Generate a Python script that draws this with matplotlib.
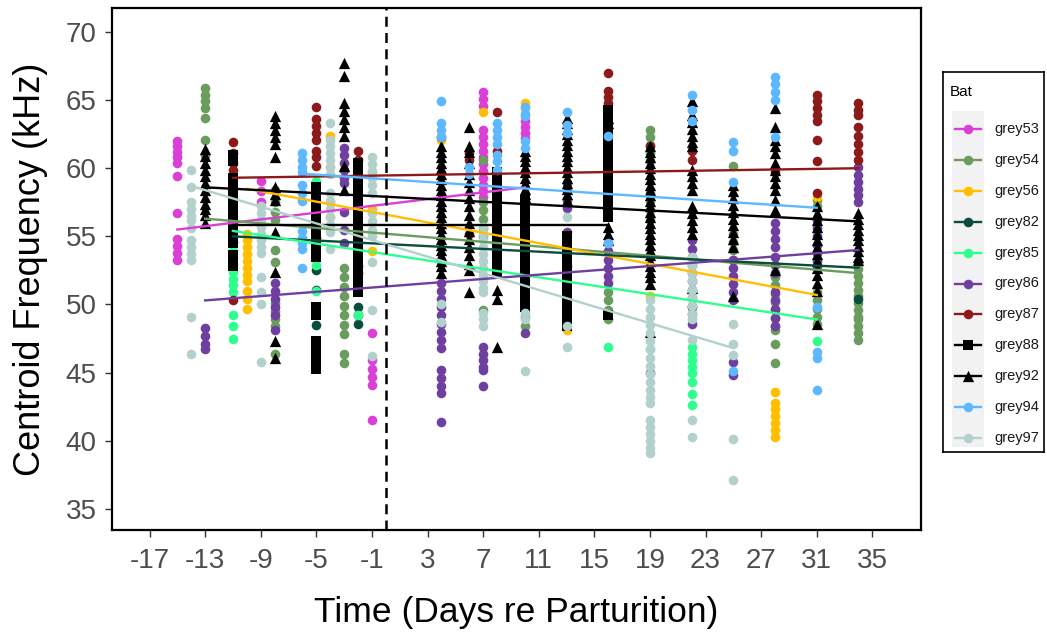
import matplotlib

matplotlib.use("Agg")
import matplotlib.pyplot as plt
from matplotlib.patches import Rectangle

plt.rcParams["font.family"] = ["Liberation Sans", "DejaVu Sans"]
plt.rcParams["axes.unicode_minus"] = False

bats = ["grey53", "grey54", "grey56", "grey82", "grey85", "grey86",
        "grey87", "grey88", "grey92", "grey94", "grey97"]
colors = ["#DA3FD6", "#6A9C5E", "#FFBF00", "#0B4D3D", "#2EFF8E", "#6F3FA0",
          "#8C1A1A", "#000000", "#000000", "#5DB8FF", "#B3D1CC"]
markers = ["o", "o", "o", "o", "o", "o", "o", "s", "^", "o", "o"]

# (day, centroid values), per bat
grey53 = [(-15, [62.0, 61.6, 61.2, 60.8, 60.4, 59.4, 56.7, 54.8, 54.3, 53.8, 53.3]),
          (-9, [59.1, 58.3, 57.5]),
          (-1, [47.9, 45.9, 45.3, 44.7, 44.1, 41.5]),
          (7, [65.6, 65.1, 64.6, 62.8, 62.3, 61.8, 61.3, 60.8, 60.3, 59.8, 59.3, 58.8, 58.3, 57.9]),
          (10, [63.5, 63.0, 62.6, 62.2])]
grey54 = [(-13, [65.9, 65.4, 64.9, 64.4, 63.7, 62.1, 61.0]),
          (-8, [58.4, 57.5, 56.8, 56.2, 54.0, 53.1, 50.1, 49.5, 48.9, 48.4, 46.4]),
          (-3, [52.7, 52.0, 51.3, 50.6, 49.9, 49.2, 48.5, 47.8, 46.4, 45.7]),
          (7, [60.6, 57.5, 56.9, 56.3, 55.6, 55.0, 49.6]),
          (10, [49.1, 48.4]),
          (16, [50.9, 50.3, 49.6, 48.9]),
          (19, [62.8, 62.3, 61.7, 61.1, 60.5, 58.2, 57.6, 56.9, 56.2]),
          (25, [60.2, 55.2, 54.6, 54.0, 53.3]),
          (28, [52.0, 51.4, 50.8, 50.2, 49.6, 49.0, 48.4, 48.1, 47.1, 45.7]),
          (31, [57.7, 57.2, 50.9, 50.3, 49.7, 49.1, 48.6]),
          (34, [53.1, 52.6, 52.1, 51.6, 51.1, 50.6, 50.1, 49.6, 49.1, 48.9, 48.4, 47.9, 47.4])]
grey56 = [(-10, [55.2, 54.7, 54.2, 53.7, 53.2, 52.7, 52.2, 51.7, 51.0, 50.4, 49.7]),
          (-4, [62.4, 60.1, 57.5, 56.4]),
          (-1, [59.7, 57.0, 53.9]),
          (4, [62.1]),
          (7, [64.1]),
          (10, [64.8, 64.4]),
          (13, [48.1]),
          (19, [50.6]),
          (28, [43.6, 42.8, 42.3, 41.8, 41.3, 40.8, 40.3]),
          (31, [57.9])]
grey82 = [(-11, [55.0, 54.6]),
          (-5, [52.5, 51.1, 48.5]),
          (-2, [52.8, 49.8, 49.2, 48.6]),
          (22, [49.8]),
          (34, [50.4])]
grey85 = [(-11, [53.9, 53.4, 52.9, 52.4, 51.9, 51.4, 50.9, 49.2, 48.4, 47.5]),
          (-5, [59.1, 52.9, 51.0]),
          (-2, [49.2]),
          (4, [53.0]),
          (10, [49.6]),
          (16, [46.9]),
          (19, [46.7]),
          (22, [46.9, 46.4, 45.9, 45.4, 45.0, 44.3, 43.4, 42.6]),
          (31, [47.3])]
grey86 = [(-13, [48.3, 47.7, 47.1, 46.7]),
          (-8, [51.6, 51.0, 50.4, 49.8, 49.2, 48.1]),
          (-3, [61.5, 61.0, 60.4, 59.9, 59.3, 58.9, 56.8, 55.5, 54.5]),
          (4, [51.6, 51.0, 50.4, 49.8, 49.2, 48.6, 48.0, 47.4, 46.8, 45.2, 44.6, 44.0, 43.5, 41.4]),
          (7, [46.9, 46.4, 45.9, 45.4, 45.2, 44.0]),
          (10, [47.9]),
          (13, [58.9, 58.3, 57.7, 57.1, 55.3, 52.8]),
          (16, [54.5, 53.9, 53.3, 52.7, 52.1, 51.6]),
          (19, [45.0]),
          (22, [54.7, 54.1, 53.5, 52.9, 52.3, 51.7, 51.1, 50.5, 49.9, 49.3, 48.6]),
          (25, [53.3, 52.7, 52.1, 51.5, 50.9, 50.3, 45.8, 44.8]),
          (28, [56.0, 55.4, 54.8, 54.2, 53.5, 52.9, 52.3, 50.9, 50.3, 49.7, 49.0, 48.4]),
          (31, [56.2, 55.6, 55.0, 54.4, 53.8, 53.2, 52.8]),
          (34, [60.1, 59.5, 59.0, 58.5, 58.0, 57.5])]
grey87 = [(-11, [61.9, 61.1, 60.4, 59.9, 50.3]),
          (-5, [64.5, 63.6, 63.1, 62.6, 62.1, 61.3, 60.8, 60.2, 54.9]),
          (-2, [61.3, 60.6, 55.1, 54.5, 54.0, 52.3]),
          (4, [62.3]),
          (6, [61.1, 60.6, 55.2]),
          (8, [64.1, 61.3]),
          (16, [67.0, 65.7, 65.2, 64.8]),
          (19, [61.6]),
          (22, [61.3, 60.6]),
          (28, [59.7]),
          (31, [65.4, 64.9, 64.4, 63.9, 63.5, 62.1, 60.5, 58.2]),
          (34, [64.8, 64.3, 63.9, 63.0, 62.4, 61.8, 61.2, 60.6])]
grey88 = [(-11, [61.0, 60.5, 59.3, 58.9, 58.5, 58.1, 57.7, 57.3, 56.9, 56.5, 56.1, 55.7, 55.3,
                 54.9, 54.5, 53.6, 53.1, 52.8]),
          (-5, [58.6, 58.2, 57.8, 57.4, 57.0, 56.6, 56.2, 55.8, 55.4, 55.0, 54.6, 54.2, 53.8,
                53.5, 49.8, 49.2, 47.3, 46.8, 46.3, 45.8, 45.3]),
          (-2, [60.4, 60.0, 59.6, 59.2, 58.8, 58.4, 58.0, 57.6, 57.2, 56.8, 56.4, 56.0, 55.6,
                55.2, 54.8, 54.4, 54.0, 53.6, 53.2, 52.8, 52.4, 52.0, 51.6, 51.2, 50.9]),
          (8, [59.7, 59.3, 58.9, 58.5, 58.1, 57.7, 57.3, 56.9, 56.5, 56.1, 55.7, 55.3, 54.9,
               54.5, 54.1, 53.7, 53.3, 52.9, 52.5, 52.3]),
          (10, [57.7, 57.3, 56.9, 56.5, 56.1, 55.7, 55.3, 54.9, 54.5, 54.1, 53.7, 53.3, 52.9,
                52.5, 52.1, 51.7, 51.3, 50.9, 50.5, 50.1, 49.8]),
          (13, [55.0, 54.6, 54.2, 53.8, 53.4, 53.0, 52.6, 52.2, 51.8, 51.4, 51.0, 50.6, 50.2,
                49.8, 49.4, 49.0, 48.6, 48.4]),
          (16, [64.3, 63.9, 63.5, 63.1, 62.7, 62.3, 61.9, 61.5, 61.1, 60.7, 60.3, 59.9, 59.5,
                59.1, 58.7, 58.3, 57.9, 57.5, 57.1, 56.7, 56.4, 49.2])]
grey92 = [(-13, [61.4, 60.9, 60.4, 59.9, 59.4, 58.9, 58.4, 57.9, 57.4, 57.0, 56.6, 56.0]),
          (-8, [63.8, 63.3, 62.8, 62.3, 61.8, 60.8, 58.6, 58.1, 57.7, 55.3, 52.4, 47.3, 46.1]),
          (-3, [67.7, 66.8, 64.8, 64.2, 63.6, 63.0, 62.4, 60.2, 58.4]),
          (4, [61.6, 61.2, 60.8, 60.4, 60.0, 59.6, 59.2, 58.8, 58.4, 58.0, 57.6, 57.2, 56.8,
               56.4, 56.0, 55.6, 55.2, 54.8, 54.4, 54.0, 53.6, 53.2, 52.8, 52.3]),
          (6, [63.0, 61.6, 61.2, 60.4, 59.6, 59.0, 58.4, 57.8, 57.2, 56.6, 56.0, 55.4, 54.8,
               54.2, 53.6, 53.0, 52.5, 50.9]),
          (8, [51.1, 50.4, 46.9]),
          (10, [61.3, 60.9, 60.5, 60.1, 59.7, 59.3, 58.9, 58.5, 58.1, 57.9]),
          (13, [63.7, 63.3, 62.9, 62.5, 62.1, 61.7, 61.3, 60.9, 60.5, 60.1, 59.7, 59.3, 58.9,
                58.5, 58.1, 57.7]),
          (16, [63.7, 63.3, 55.7, 55.2, 54.7]),
          (19, [61.6, 61.2, 60.8, 60.4, 60.0, 59.6, 59.2, 58.8, 58.4, 58.0, 57.6, 57.2, 56.8,
                56.4, 56.0, 55.6, 55.2, 54.8, 54.4, 54.0, 53.6, 53.2, 52.8, 52.4, 52.0, 51.5,
                48.0]),
          (22, [64.9, 63.9, 63.4, 62.9, 62.4, 61.9, 61.6, 59.9, 59.4, 58.9, 58.4, 57.2, 56.7,
                56.2, 55.7, 55.2, 51.2]),
          (25, [58.8, 58.3, 57.8, 57.3, 56.8, 56.3, 55.8, 55.3, 54.8, 54.2, 50.6]),
          (28, [64.4, 63.0, 62.1, 61.6, 61.1, 60.4, 59.9, 59.4, 58.9, 58.4, 57.7, 56.9, 52.5]),
          (31, [57.2, 56.7, 56.2, 55.7, 55.2, 54.7, 54.2, 53.7, 53.2, 52.7, 52.2, 51.6, 51.0,
                48.6]),
          (34, [56.7, 56.3, 55.9, 55.5, 55.1, 54.7, 54.3, 53.9, 53.5, 53.3])]
grey94 = [(-6, [61.1, 60.6, 60.1, 59.7, 58.8, 58.2, 57.6, 55.4, 54.9, 54.5, 54.1, 52.7]),
          (4, [64.9, 63.3, 62.8, 62.3]),
          (6, [60.1, 59.6]),
          (8, [63.3, 62.8, 62.3, 61.8, 61.0, 60.5, 59.9]),
          (10, [64.5, 64.0, 63.8, 62.0, 61.5]),
          (13, [64.1, 63.2, 62.6]),
          (16, [62.4, 54.5]),
          (22, [65.4, 64.3, 63.5]),
          (25, [61.9, 61.3, 59.0, 45.1]),
          (28, [66.7, 66.2, 65.6, 65.0, 62.3]),
          (31, [49.8, 46.5, 46.1, 43.7])]
grey97 = [(-14, [59.9, 58.6, 57.5, 57.0, 56.5, 56.2, 55.6, 54.7, 54.2, 53.7, 53.3, 49.1, 46.4]),
          (-9, [57.2, 56.7, 56.2, 55.7, 55.2, 54.7, 54.2, 53.8, 52.0, 50.9, 50.0, 45.8]),
          (-4, [63.3, 62.1, 61.6, 61.1, 60.6, 60.1, 59.6, 58.2, 57.6, 57.0, 56.4, 55.8, 55.3,
                54.1]),
          (-1, [60.8, 60.3, 59.8, 59.3, 58.8, 58.2, 56.7, 56.1, 55.5, 55.0, 53.1, 49.6, 46.2]),
          (4, [50.0, 48.7]),
          (7, [55.7, 55.2, 54.7, 54.2, 53.7, 53.2, 52.7, 52.2, 51.7, 51.2, 50.9, 49.4, 48.9,
               48.4]),
          (10, [49.4, 48.9, 45.1]),
          (13, [56.4, 48.4, 46.9]),
          (19, [50.3, 49.7, 49.1, 48.5, 47.9, 47.3, 46.7, 46.1, 45.5, 44.9, 44.3, 43.7, 43.2,
                42.8, 41.5, 41.0, 40.5, 40.0, 39.5, 39.1]),
          (22, [53.5, 52.9, 52.3, 51.7, 51.1, 50.5, 49.9, 49.3, 48.9, 47.4, 41.5, 40.3]),
          (25, [48.6, 47.1, 46.3, 40.1, 37.1])]

obs = [grey53, grey54, grey56, grey82, grey85, grey86,
       grey87, grey88, grey92, grey94, grey97]

# linear-fit end values (at each bat's first and last day)
fit_start = [55.5, 56.3, 58.5, 55.0, 55.4, 50.3, 59.3, 55.8, 58.6, 59.6, 58.7]
fit_end = [58.6, 52.3, 50.7, 52.7, 48.9, 54.0, 60.0, 55.8, 56.1, 57.1, 46.8]

x_ticks = list(range(-17, 36, 4))
y_ticks = list(range(35, 71, 5))

msize = {"o": 48, "s": 54, "^": 66}

W, H = 1047, 632
fig = plt.figure(figsize=(W / 100, H / 100), dpi=100)
ax = fig.add_axes([112 / W, 1 - 530 / H, (921 - 112) / W, (530 - 8) / H])

for col, mk, rows in zip(colors, markers, obs):
    xs = [d for d, vals in rows for _ in vals]
    ys = [v for _, vals in rows for v in vals]
    ax.scatter(xs, ys, s=msize[mk], c=col, marker=mk, linewidths=0, zorder=2)

for col, rows, y0, y1 in zip(colors, obs, fit_start, fit_end):
    days = [d for d, _ in rows]
    ax.plot([min(days), max(days)], [y0, y1], color=col, lw=1.7, zorder=3)

ax.axvline(0, color="black", lw=1.8, ls=(0, (4, 2.5)), zorder=4)

ax.set_xlim(-19.7, 38.5)
ax.set_ylim(33.45, 71.76)
ax.set_xticks(x_ticks)
ax.set_yticks(y_ticks)
ax.tick_params(labelsize=20, labelcolor="#4d4d4d", color="#333333", length=5, width=1)
ax.tick_params(axis="x", pad=8)
ax.tick_params(axis="y", pad=6)
for sp in ax.spines.values():
    sp.set_linewidth(1.6)
ax.set_xlabel("Time (Days re Parturition)", fontsize=25.5, labelpad=16)
ax.set_ylabel("Centroid Frequency (kHz)", fontsize=26, labelpad=13)

# legend panel, drawn in its own pixel-sized axes
lg = fig.add_axes([943 / W, 1 - 452 / H, 101 / W, 380 / H])
lg.set_xlim(0, 101)
lg.set_ylim(380, 0)
lg.set_xticks([])
lg.set_yticks([])
for sp in lg.spines.values():
    sp.set_linewidth(1.2)
lg.text(7, 20, "Bat", fontsize=11, va="center", ha="left")
lg.add_patch(Rectangle((9, 39), 32, 336, color="#f2f2f2", lw=0))
for i, (name, col, mk) in enumerate(zip(bats, colors, markers)):
    yy = 57 + i * 30.9
    lg.plot([12, 38], [yy, yy], color=col, lw=1.7)
    lg.scatter([25], [yy], s=msize[mk], c=col, marker=mk, linewidths=0, zorder=3)
    lg.text(51, yy, name, fontsize=10.5, va="center", ha="left", color="#1a1a1a")

fig.savefig("out.png", dpi=100)
